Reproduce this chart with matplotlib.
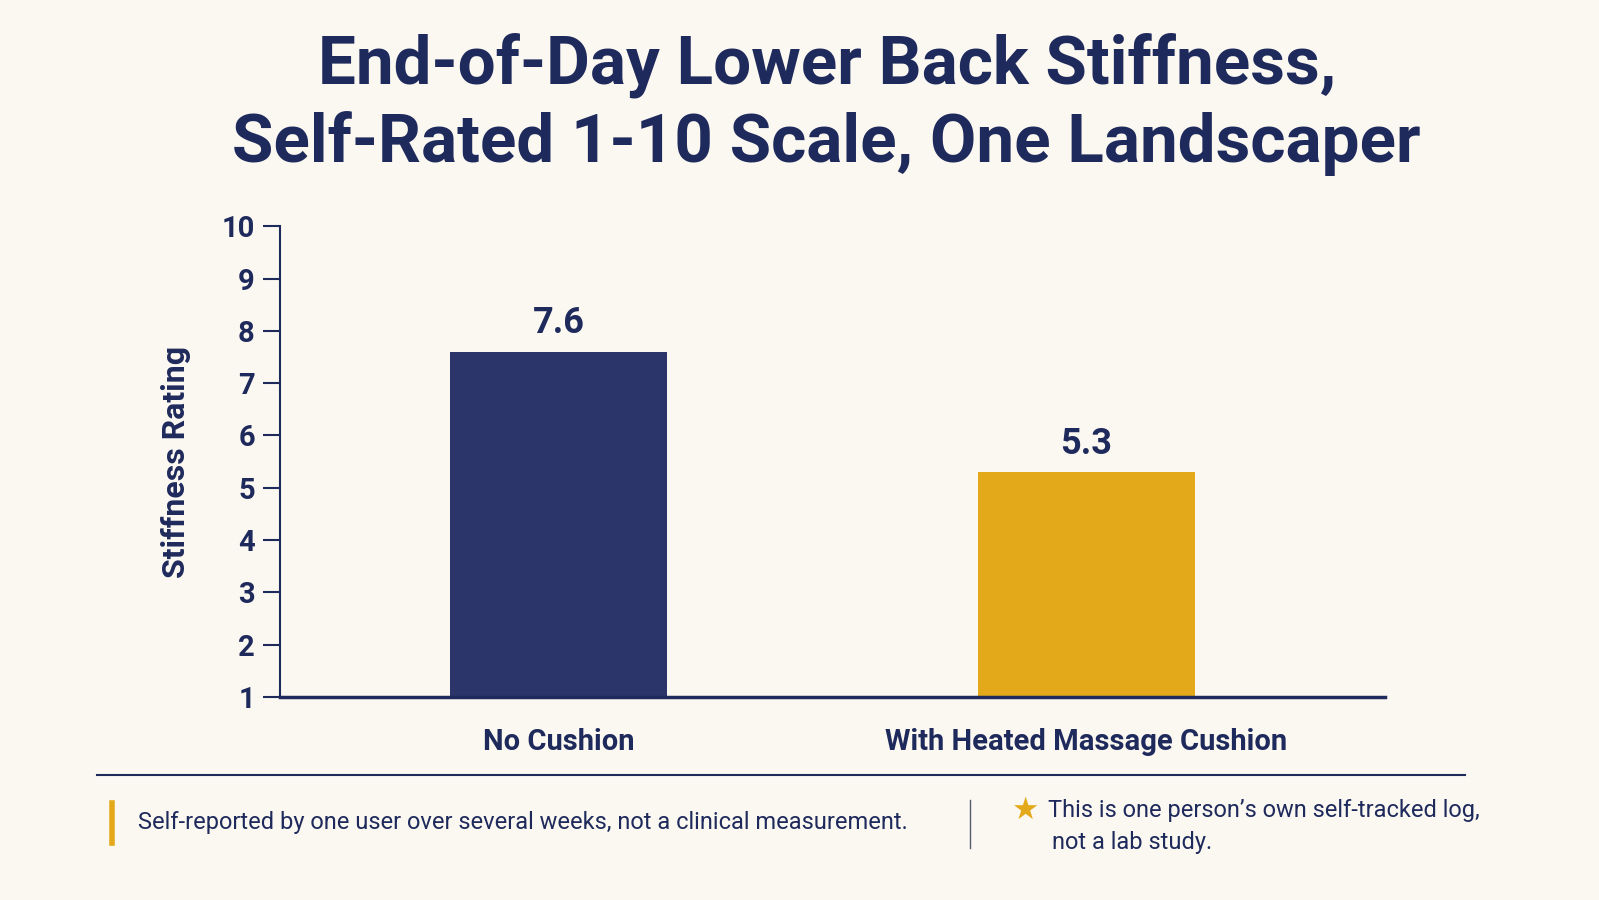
import matplotlib.pyplot as plt
from matplotlib.lines import Line2D

categories = ['No Cushion', 'With Heated Massage Cushion']
ratings = [7.6, 5.3]
bar_colors = ['#2b3569', '#e3a91b']
yticks = list(range(1, 11))

bg = '#fbf8f1'
ink = '#1f2a5c'
plt.rcParams['font.family'] = ['Roboto', 'DejaVu Sans']

fig = plt.figure(figsize=(15.99, 9), dpi=100, facecolor=bg)
ax = fig.add_axes([0.175, 0.2256, 0.691, 0.523], facecolor=bg)

x = list(range(len(categories)))
ax.bar(x, [r - 1 for r in ratings], bottom=1, width=0.41, color=bar_colors)
for xi, r in zip(x, ratings):
    ax.text(xi, r + 0.2, f'{r}', ha='center', va='bottom', fontsize=26,
            fontweight='bold', color=ink)

ax.set_xlim(-0.528, 1.565)
ax.set_ylim(1, 10)
ax.set_yticks(yticks)
ax.set_xticks(x)
ax.set_xticklabels(categories, fontsize=21, fontweight='bold', color=ink)
ax.tick_params(axis='x', length=0, pad=22)
ax.tick_params(axis='y', length=12, width=1.5, color=ink, labelsize=21,
               labelcolor=ink, pad=6)
for lab in ax.get_yticklabels():
    lab.set_fontweight('bold')
for s in ['top', 'right']:
    ax.spines[s].set_visible(False)
ax.spines['left'].set_color(ink)
ax.spines['left'].set_linewidth(1.5)
ax.spines['bottom'].set_color(ink)
ax.spines['bottom'].set_linewidth(2.5)
ax.set_ylabel('Stiffness Rating', fontsize=23, fontweight='bold', color=ink, labelpad=22)

fig.text(0.517, 0.928, 'End-of-Day Lower Back Stiffness,', ha='center', va='center',
         fontsize=48.5, fontweight='bold', color=ink)
fig.text(0.517, 0.84, 'Self-Rated 1-10 Scale, One Landscaper', ha='center', va='center',
         fontsize=48.5, fontweight='bold', color=ink)

# footer
fig.add_artist(Line2D([97/1599, 1465/1599], [1-775/900]*2, color=ink, lw=1.5))
fig.add_artist(Line2D([112/1599]*2, [1-803/900, 1-843/900], color='#e3a91b', lw=4))
fig.add_artist(Line2D([970/1599]*2, [1-800/900, 1-848/900], color='#555a70', lw=1))
fig.text(138/1599, 1-823/900, 'Self-reported by one user over several weeks, not a clinical measurement.',
         va='center', fontsize=17, color=ink)
fig.text(1025/1599, 1-810/900, '★', ha='center', va='center', fontsize=22,
         color='#e3a91b', family='DejaVu Sans')
fig.text(1048/1599, 1-811/900, 'This is one person\u2019s own self-tracked log,',
         va='center', fontsize=17, color=ink)
fig.text(1052/1599, 1-842/900, 'not a lab study.', va='center', fontsize=17, color=ink)

fig.savefig('out.png', dpi=100, facecolor=bg)
